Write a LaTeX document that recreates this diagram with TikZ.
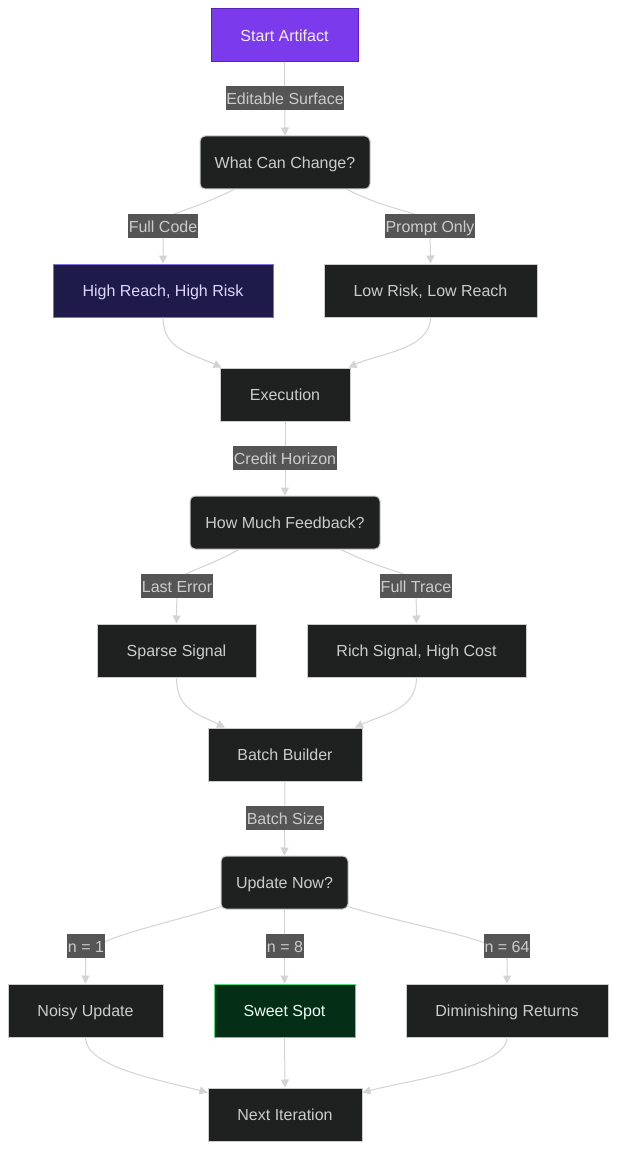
\documentclass[tikz,border=0pt]{standalone}
\usepackage{fontspec}
\setmainfont{Liberation Sans}
\usetikzlibrary{arrows.meta,calc}
\definecolor{bgc}{HTML}{FFFFFF}
\definecolor{darkfill}{HTML}{1F2020}
\definecolor{darkborder}{HTML}{CCCCCC}
\definecolor{darktext}{HTML}{CCCCCC}
\definecolor{startfill}{HTML}{7C3AED}
\definecolor{startborder}{HTML}{5B21B6}
\definecolor{startext}{HTML}{F3EEFF}
\definecolor{hrfill}{HTML}{1E1B4B}
\definecolor{hrborder}{HTML}{7C6FD8}
\definecolor{hrtext}{HTML}{DDD6FE}
\definecolor{ssfill}{HTML}{052E16}
\definecolor{ssborder}{HTML}{4ADE80}
\definecolor{sstext}{HTML}{ECFDF5}
\definecolor{lblfill}{HTML}{555555}
\definecolor{edgec}{HTML}{D3D3D3}
\begin{document}
\begin{tikzpicture}[x=1pt,y=-1pt,
  font=\fontsize{16}{19}\selectfont,
  box/.style={draw=darkborder,fill=darkfill,text=darktext,line width=1pt,minimum height=53pt,inner sep=0pt,text height=14pt,text depth=1.5pt},
  rbox/.style={box,rounded corners=5pt},
  startbox/.style={box,draw=startborder,fill=startfill,text=startext},
  hrbox/.style={box,draw=hrborder,fill=hrfill,text=hrtext},
  ssbox/.style={box,draw=ssborder,fill=ssfill,text=sstext},
  lbl/.style={fill=lblfill,text=darktext,inner xsep=0.5pt,inner ysep=0pt,minimum height=24pt,text height=14pt,text depth=1.5pt},
  edge/.style={draw=edgec,line width=1pt,-{Triangle[length=8pt,width=8pt]}}
]
\path[use as bounding box,fill=bgc] (0,0) rectangle (617,1150);

% nodes
\node[startbox,minimum width=147pt] (start) at (284.5,35) {Start Artifact};
\node[rbox,minimum width=170pt] (what) at (285,162.5) {What Can Change?};
\node[hrbox,minimum width=220pt] (hr) at (163,290.5) {High Reach, High Risk};
\node[box,minimum width=213pt] (lr) at (430.5,290.5) {Low Risk, Low Reach};
\node[box,minimum width=130pt] (exe) at (285,394.5) {Execution};
\node[rbox,minimum width=190pt] (fb) at (285,522.5) {How Much Feedback?};
\node[box,minimum width=159pt] (sparse) at (176.5,650.5) {Sparse Signal};
\node[box,minimum width=219pt] (rich) at (416.5,650.5) {Rich Signal, High Cost};
\node[box,minimum width=154pt] (batch) at (285,754.5) {Batch Builder};
\node[rbox,minimum width=127pt] (upd) at (284.5,882.5) {Update Now?};
\node[box,minimum width=155pt] (noisy) at (85.5,1010.5) {Noisy Update};
\node[ssbox,minimum width=141pt] (sweet) at (284.5,1010.5) {Sweet Spot};
\node[box,minimum width=202pt] (dim) at (507,1010.5) {Diminishing Returns};
\node[box,minimum width=154pt] (next) at (285,1114.5) {Next Iteration};

% label positions
\coordinate (lES) at (285,98);
\coordinate (lFC) at (163,226);
\coordinate (lPO) at (430,226);
\coordinate (lCH) at (285,458);
\coordinate (lLE) at (177,586);
\coordinate (lFT) at (416,586);
\coordinate (lBS) at (285,818);
\coordinate (lN1) at (86,946);
\coordinate (lN8) at (285,946);
\coordinate (lN64) at (507,946);

% edges
\draw[edge] (start.south) -- (what.north);
\draw[edge] ($(what.south)+(-51,0)$) .. controls +(-50,25) and +(0,-14) .. (lFC) -- (hr.north);
\draw[edge] ($(what.south)+(62,0)$) .. controls +(50,25) and +(0,-14) .. (lPO) -- (lr.north);
\draw[edge] (hr.south) .. controls +(0,32) and +(-30,-14) .. ($(exe.north west)+(2,0)$);
\draw[edge] (lr.south) .. controls +(0,32) and +(30,-14) .. ($(exe.north east)+(-2,0)$);
\draw[edge] (exe.south) -- (fb.north);
\draw[edge] ($(fb.south)+(-46,0)$) .. controls +(-42,23) and +(0,-14) .. (lLE) -- (sparse.north);
\draw[edge] ($(fb.south)+(56,0)$) .. controls +(50,25) and +(0,-14) .. (lFT) -- (rich.north);
\draw[edge] (sparse.south) .. controls +(0,32) and +(-28,-14) .. ($(batch.north)+(-60,0)$);
\draw[edge] (rich.south) .. controls +(0,32) and +(30,-14) .. ($(batch.north)+(70,0)$);
\draw[edge] (batch.south) -- (upd.north);
\draw[edge] ($(upd.south west)+(1,-3)$) .. controls +(-72,22) and +(0,-20) .. ($(noisy.north)+(0,-24)$) -- (noisy.north);
\draw[edge] (upd.south) -- (sweet.north);
\draw[edge] ($(upd.south east)+(-1,-3)$) .. controls +(72,22) and +(0,-20) .. ($(dim.north)+(0,-24)$) -- (dim.north);
\draw[edge] (noisy.south) .. controls +(0,30) and +(-45,-12) .. ($(next.north west)+(0,5)$);
\draw[edge] (sweet.south) -- (next.north);
\draw[edge] (dim.south) .. controls +(0,30) and +(45,-12) .. ($(next.north east)+(0,5)$);

% labels
\node[lbl] (tES) at (lES) {Editable Surface};
\node[lbl] (tFC) at (lFC) {Full Code};
\node[lbl] (tPO) at (lPO) {Prompt Only};
\node[lbl] (tCH) at (lCH) {Credit Horizon};
\node[lbl] (tLE) at (lLE) {Last Error};
\node[lbl] (tFT) at (lFT) {Full Trace};
\node[lbl] (tBS) at (lBS) {Batch Size};
\node[lbl] (tN1) at (lN1) {n = 1};
\node[lbl] (tN8) at (lN8) {n = 8};
\node[lbl] (tN64) at (lN64) {n = 64};
\end{tikzpicture}
\end{document}
